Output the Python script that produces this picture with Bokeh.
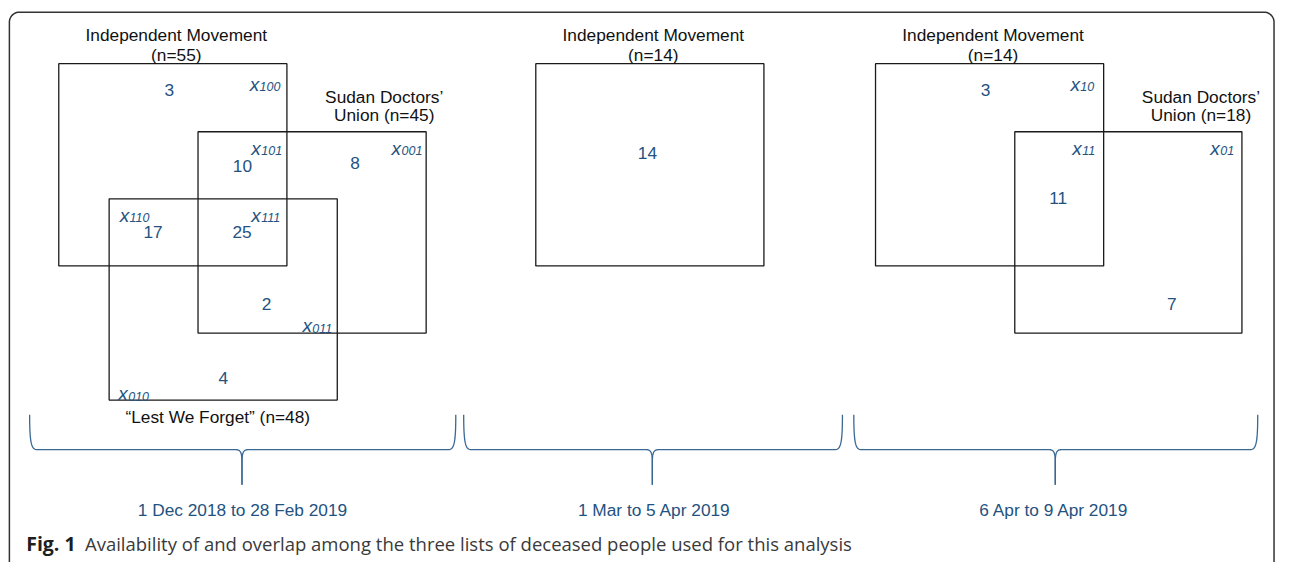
import numpy as np
from bokeh.plotting import figure
from bokeh.models import Range1d
from bokeh.core.properties import value
from bokeh.embed import file_html
from bokeh.resources import INLINE

# ---------------- data ----------------
periods = ["1 Dec 2018 to 28 Feb 2019", "1 Mar to 5 Apr 2019", "6 Apr to 9 Apr 2019"]

p1_lists = ["Independent Movement", "Sudan Doctors\u2019 Union", "\u201cLest We Forget\u201d"]
p1_list_n = [55, 45, 48]
p1_cells = ["100", "101", "001", "110", "111", "011", "010"]
p1_counts = [3, 10, 8, 17, 25, 2, 4]

p2_lists = ["Independent Movement"]
p2_list_n = [14]
p2_counts = [14]

p3_lists = ["Independent Movement", "Sudan Doctors\u2019 Union"]
p3_list_n = [14, 18]
p3_cells = ["10", "11", "01"]
p3_counts = [3, 11, 7]

caption_bold = "Fig. 1"
caption_text = "Availability of and overlap among the three lists of deceased people used for this analysis"

# ---------------- layout (pixel positions) ----------------
W, H = 1276, 562
SX, SY = W / 1292.0, H / 578.0   # reference pixel -> figure pixel

box_layout = [
    [(59, 290, 65, 273), (200, 431, 135, 342), (110, 341, 204, 411)],
    [(542, 773, 65, 273)],
    [(886, 1117, 65, 273), (1027, 1257, 135, 342)],
]
name_layout = [
    [(178, 35, "two"), (388.5, 99, "split"), (220, 428, "one")],
    [(661, 35, "two")],
    [(1005, 35, "two"), (1215.5, 99, "split")],
]
count_layout = [
    [(171, 92), (245, 170), (359, 167.5), (154.5, 238), (244.6, 238), (269.5, 312.5), (225.5, 388.5)],
    [(655, 157)],
    [(997.5, 92), (1071, 203.5), (1186, 312.5)],
]
cell_layout = [
    [(252.3, 86), (254, 152), (396, 152), (120.7, 221), (254, 221), (305.7, 334.5), (119.3, 404.5)],
    [],
    [(1083.3, 86), (1085.3, 152), (1225, 152)],
]
brace_layout = [(29.5, 461, 244.5), (469, 852.5, 660), (864, 1273, 1068)]
brace_top, brace_mid, brace_tip = 426, 462, 498
date_y = 524
date_x = [245, 662, 1067]
caption_y = 558

BLUE = "#24527f"
BRACE = "#3a6894"
BLACK = "#111111"
FONT = value("Liberation Sans")

# data coordinates = reference-picture pixels, mapped onto the figure
p = figure(width=W, height=H, x_range=Range1d(0, 1292), y_range=Range1d(578, 0),
           output_backend="svg", toolbar_location=None, min_border=0,
           x_axis_location=None, y_axis_location=None)
p.grid.visible = False
p.outline_line_color = None
p.background_fill_color = "white"
p.border_fill_color = "white"

# outer rounded frame
rx, ry = 10 / SX, 10 / SY
fl, ft, fr, fb = 9, 12, 1289.5, 640
ang1 = np.linspace(np.pi, 1.5 * np.pi, 12)
ang2 = np.linspace(1.5 * np.pi, 2 * np.pi, 12)
fx = [fl] + list(fl + rx + rx * np.cos(ang1)) + list(fr - rx + rx * np.cos(ang2)) + [fr]
fy = [fb] + list(ft + ry + ry * np.sin(ang1)) + list(ft + ry + ry * np.sin(ang2)) + [fb]
p.line(fx, fy, line_color="#333333", line_width=1.5)

# boxes
allboxes = [b for panel in box_layout for b in panel]
p.quad(left=[b[0] for b in allboxes], right=[b[1] for b in allboxes],
       top=[b[2] for b in allboxes], bottom=[b[3] for b in allboxes],
       fill_color=None, line_color="#1a1a1a", line_width=1.3)

# list names
lists = [p1_lists, p2_lists, p3_lists]
ns = [p1_list_n, p2_list_n, p3_list_n]
nx, ny, nt = [], [], []
for panel in range(3):
    for name, n, (cx, cy, mode) in zip(lists[panel], ns[panel], name_layout[panel]):
        if mode == "two":
            lines = [name, f"(n={n})"]
            gap = 21
        elif mode == "split":
            w = name.split(" ")
            lines = [" ".join(w[:2]), " ".join(w[2:]) + f" (n={n})"]
            gap = 19
        else:
            lines = [f"{name} (n={n})"]
            gap = 0
        for i, t in enumerate(lines):
            nx.append(cx); ny.append(cy + i * gap); nt.append(t)
p.text(x=nx, y=ny, text=nt, text_align="center", text_baseline="middle",
       text_font=FONT, text_font_size="17.3px", text_color=BLACK)

# counts
counts = [p1_counts, p2_counts, p3_counts]
cx_, cy_, ct_ = [], [], []
for panel in range(3):
    for c, (x, y) in zip(counts[panel], count_layout[panel]):
        cx_.append(x); cy_.append(y); ct_.append(str(c))
p.text(x=cx_, y=cy_, text=ct_, text_align="center", text_baseline="middle",
       text_font=FONT, text_font_size="17.3px", text_color=BLUE)

# cell labels x_{code}
cells = [p1_cells, [], p3_cells]
lx, ly, sx, sy, st = [], [], [], [], []
for panel in range(3):
    for code, (x, y) in zip(cells[panel], cell_layout[panel]):
        lx.append(x); ly.append(y)
        sx.append(x + 10); sy.append(y + 2.5); st.append(code)
p.text(x=lx, y=ly, text=["x"] * len(lx), text_align="left", text_baseline="alphabetic",
       text_font=FONT, text_font_style="italic", text_font_size="19px", text_color=BLUE)
p.text(x=sx, y=sy, text=st, text_align="left", text_baseline="alphabetic",
       text_font=FONT, text_font_style="italic", text_font_size="12.5px", text_color=BLUE)


# braces
def bez(p0, p1, p2, p3, n=16):
    t = np.linspace(0, 1, n)[:, None]
    pts = ((1 - t) ** 3 * np.array(p0) + 3 * (1 - t) ** 2 * t * np.array(p1)
           + 3 * (1 - t) * t ** 2 * np.array(p2) + t ** 3 * np.array(p3))
    return pts


bxs, bys = [], []
for (L, R, C) in brace_layout:
    m = brace_mid
    a = bez((L, brace_top), (L, m - 5), (L + 2, m), (L + 8, m))
    b = bez((C - 6, m), (C - 1.5, m), (C, m + 3), (C, m + 13))
    pa = np.vstack([a, b, [[C, brace_tip]]])
    c = bez((R, brace_top), (R, m - 5), (R - 2, m), (R - 8, m))
    d = bez((C + 6, m), (C + 1.5, m), (C, m + 3), (C, m + 13))
    pb = np.vstack([c, d, [[C, brace_tip]]])
    for path in (pa, pb):
        bxs.append(list(path[:, 0])); bys.append(list(path[:, 1]))
p.multi_line(xs=bxs, ys=bys, line_color=BRACE, line_width=1.3)

# period labels
p.text(x=date_x, y=[date_y] * 3, text=periods, text_align="center", text_baseline="middle",
       text_font=FONT, text_font_size="17.3px", text_color=BLUE)

# caption
p.text(x=[26], y=[caption_y], text=[caption_bold], text_align="left", text_baseline="alphabetic",
       text_font=value("Open Sans"), text_font_style="bold", text_font_size="19.5px",
       text_color="#1e1e1e")
p.text(x=[85.5], y=[caption_y], text=[caption_text], text_align="left", text_baseline="alphabetic",
       text_font=value("Open Sans"), text_font_size="18.5px", text_color="#3a3a3a")

open("out.html", "w").write(file_html(p, INLINE))
